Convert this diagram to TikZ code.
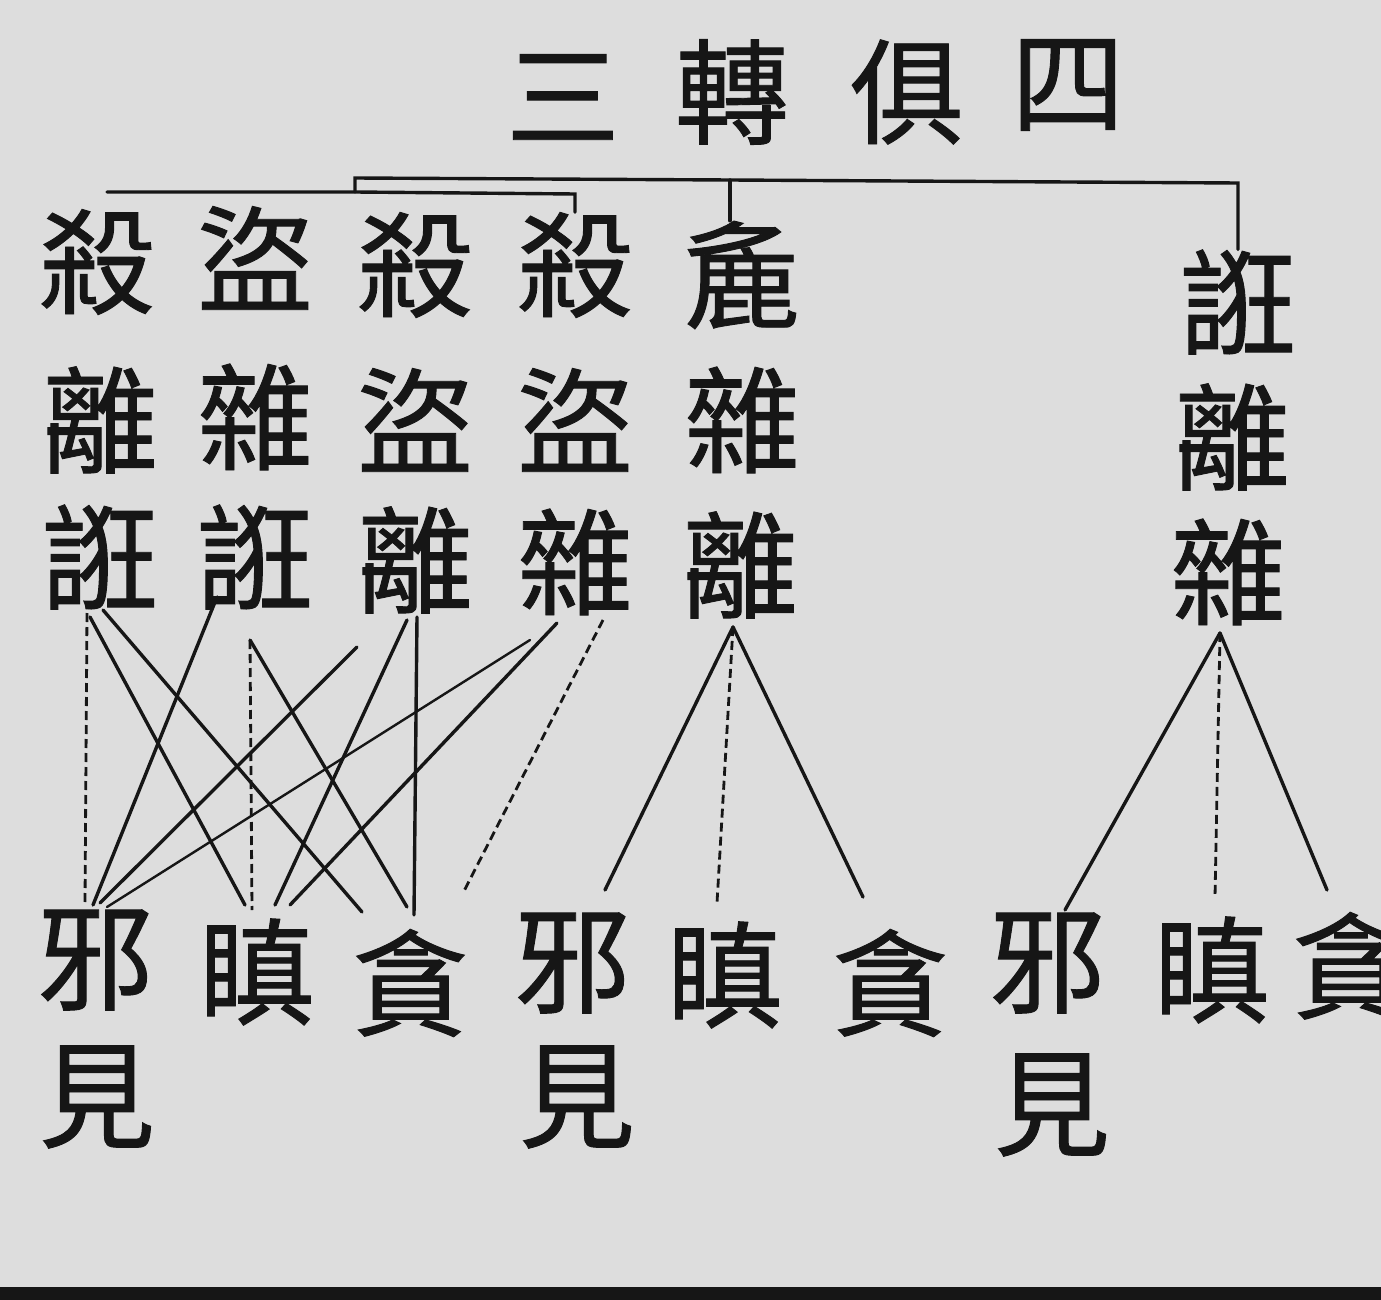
\documentclass[tikz,border=0pt]{standalone}
\usepackage{fontspec}
\newfontfamily\cjk[FakeBold=0.8]{Noto Sans CJK TC}
\definecolor{paper}{HTML}{DDDDDD}
\definecolor{ink}{HTML}{161616}
\begin{document}
\begin{tikzpicture}[x=1pt,y=-1pt,
  ch/.style={font=\cjk\fontsize{116}{116}\selectfont, text=ink, inner sep=0pt, anchor=center},
  tch/.style={font=\cjk\fontsize{114}{114}\selectfont, text=ink, inner sep=0pt, anchor=center},
  link/.style={draw=ink, line width=3.4pt, line cap=round},
  thin/.style={draw=ink, line width=2.4pt, line cap=round},
  dlink/.style={draw=ink, line width=2.8pt, dash pattern=on 9pt off 5pt}]
\fill[paper] (0,0) rectangle (1381,1300);
\useasboundingbox (0,0) rectangle (1381,1300);
% title
\node[tch] (t1) at (563,97) {三};
\node[tch] (t2) at (732,92) {轉};
\node[tch] (t3) at (907,92) {俱};
\node[tch] (t4) at (1068,85) {四};
% columns
\node[ch] (c1a) at (97,262) {殺};
\node[ch] (c1b) at (100,420) {離};
\node[ch] (c1c) at (100,557) {誑};
\node[ch] (c2a) at (255,258) {盜};
\node[ch] (c2b) at (255,417) {雜};
\node[ch] (c2c) at (255,557) {誑};
\node[ch] (c3a) at (415,265) {殺};
\node[ch] (c3b) at (415,420) {盜};
\node[ch] (c3c) at (415,560) {離};
\node[ch] (c4a) at (575,265) {殺};
\node[ch] (c4b) at (575,420) {盜};
\node[ch] (c4c) at (575,562) {雜};
\node[ch] (c5a) at (742,275) {麁};
\node[ch] (c5b) at (742,420) {雜};
\node[ch] (c5c) at (740,565) {離};
\node[ch] (c6a) at (1238,302) {誑};
\node[ch] (c6b) at (1232,437) {離};
\node[ch] (c6c) at (1228,572) {雜};
% bottom row
\node[ch] (g1a) at (95,960) {邪};
\node[ch] (g1b) at (97,1097) {見};
\node[ch] (g2) at (257,972) {瞋};
\node[ch] (g3) at (410,983) {貪};
\node[ch] (g4a) at (572,963) {邪};
\node[ch] (g4b) at (577,1097) {見};
\node[ch] (g5) at (725,975) {瞋};
\node[ch] (g6) at (890,983) {貪};
\node[ch] (g7a) at (1047,963) {邪};
\node[ch] (g7b) at (1052,1105) {見};
\node[ch] (g8) at (1212,970) {瞋};
\node[ch] (g9) at (1350,966) {貪};
% bracket coordinates
\coordinate (bu-l) at (355,178);
\coordinate (bu-r) at (1238,183);
\coordinate (bu-m) at (730,180);
\coordinate (bl-l) at (107,192);
\coordinate (bl-m) at (355,192);
\coordinate (bl-r) at (575,194);
\draw[link] (bl-m) -- (bu-l) -- (bu-m) -- (bu-r) -- (c6a.north -| bu-r);
\draw[link] (bu-m) -- (c5a.north -| bu-m);
\draw[link] (bl-l) -- (bl-m) -- (bl-r) -- (c4a.north -| bl-r);
% left group connector ends
\coordinate (o1a) at (87,613);  \coordinate (i1a) at (85,903);
\coordinate (o1b) at (90,617);  \coordinate (i2a) at (245,905);
\coordinate (o1c) at (103,610); \coordinate (i3a) at (362,912);
\coordinate (o2a) at (217,597); \coordinate (i1b) at (93,905);
\coordinate (o2b) at (250,640); \coordinate (i2b) at (252,910);
\coordinate (i3b) at (407,907);
\coordinate (o3a) at (357,647); \coordinate (i1c) at (100,903);
\coordinate (o3b) at (407,620); \coordinate (i2c) at (275,905);
\coordinate (o3c) at (417,617); \coordinate (i3c) at (414,915);
\coordinate (o4a) at (530,640); \coordinate (i1d) at (107,907);
\coordinate (o4b) at (557,623); \coordinate (i2d) at (290,905);
\coordinate (o4c) at (603,620); \coordinate (i3d) at (463,893);
% col 1
\draw[dlink] (o1a) -- (i1a);
\draw[link] (o1b) -- (i2a);
\draw[link] (o1c) -- (i3a);
% col 2
\draw[link] (o2a) -- (i1b);
\draw[dlink] (o2b) -- (i2b);
\draw[link] (o2b) -- (i3b);
% col 3
\draw[link] (o3a) -- (i1c);
\draw[link] (o3b) -- (i2c);
\draw[link] (o3c) -- (i3c);
% col 4
\draw[thin] (o4a) -- (i1d);
\draw[link] (o4b) -- (i2d);
\draw[dlink] (o4c) -- (i3d);
% col 5
\coordinate (o5) at (733,627);
\coordinate (i5a) at (605,890);
\coordinate (i5b) at (717,903);
\coordinate (i5c) at (863,897);
\draw[link] (o5) -- (i5a);
\draw[dlink] (o5) -- (i5b);
\draw[link] (o5) -- (i5c);
% col 6
\coordinate (o6) at (1220,633);
\coordinate (i6a) at (1065,910);
\coordinate (i6b) at (1215,897);
\coordinate (i6c) at (1327,890);
\draw[link] (o6) -- (i6a);
\draw[dlink] (o6) -- (i6b);
\draw[link] (o6) -- (i6c);
% bottom rule
\fill[ink] (0,1287) rectangle (1381,1300);
\end{tikzpicture}
\end{document}
